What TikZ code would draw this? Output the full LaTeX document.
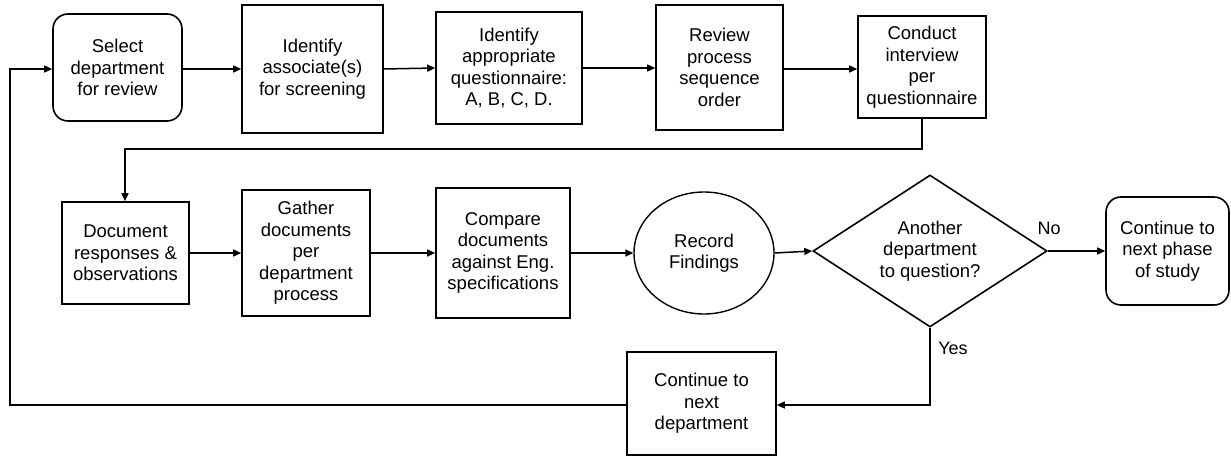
\documentclass[tikz,border=0pt]{standalone}
\usepackage{fontspec}
\setmainfont{Liberation Sans}
\usetikzlibrary{shapes.geometric,arrows.meta}
\begin{document}
\begin{tikzpicture}[x=1pt,y=-1pt,
  every node/.style={font=\fontsize{18.5}{21.5}\selectfont, align=center, inner sep=0pt},
  box/.style={draw, line width=1.6pt, rectangle},
  rbox/.style={draw, line width=1.6pt, rectangle, rounded corners=15pt},
  oval/.style={draw, line width=1.4pt, ellipse},
  decide/.style={draw, line width=1.6pt, diamond, aspect=1.54},
  arr/.style={line width=1.5pt, -{Triangle[length=8pt,width=7pt]}},
  ln/.style={line width=1.5pt},
  lbl/.style={font=\fontsize{18}{21}\selectfont}]
\useasboundingbox (0,0) rectangle (1231,457);
% row 1
\node[rbox, minimum width=129, minimum height=107] (sel) at (117.5,67.5) {Select\\department\\for review};
\node[box, minimum width=141, minimum height=128] (ass) at (312.5,69) {Identify\\associate(s)\\for screening};
\node[box, minimum width=146, minimum height=112] (que) at (509,68) {Identify\\appropriate\\questionnaire:\\A, B, C, D.};
\node[box, minimum width=127, minimum height=125] (rev) at (719.5,67.5) {Review\\process\\sequence\\order};
\node[box, minimum width=128, minimum height=102] (con) at (922,67) {Conduct\\interview\\per\\questionnaire};
% row 2
\node[box, minimum width=127, minimum height=102] (doc) at (125.5,253) {Document\\responses \&\\observations};
\node[box, minimum width=128, minimum height=126] (gat) at (306,253) {Gather\\documents\\per\\department\\process};
\node[box, minimum width=134, minimum height=130] (cmp) at (503,253) {Compare\\documents\\against Eng.\\specifications};
\node[oval, minimum width=140, minimum height=122] (rec) at (704,253) {Record\\Findings};
\node[decide, minimum width=234, minimum height=152] (dec) at (930,251) {Another\\department\\to question?};
\node[rbox, minimum width=123, minimum height=108] (pha) at (1167.5,251) {Continue to\\next phase\\of study};
% row 3
\node[box, minimum width=149, minimum height=103] (nxt) at (701.5,403.5) {Continue to\\next\\department};
% labels
\node[lbl] (no) at (1049,228) {No};
\node[lbl] (yes) at (953,348) {Yes};
% coordinates
\coordinate (c1) at (922,149);
\coordinate (c2) at (125,149);
\coordinate (c3) at (930,405);
\coordinate (c4) at (10,405);
\coordinate (c5) at (10,69);
% connectors
\draw[arr] (sel.east |- 0,69) -- (ass.west |- 0,69);
\draw[arr] (ass.east |- 0,69) -- (que.west |- 0,68);
\draw[arr] (que.east |- 0,68) -- (rev.west |- 0,68);
\draw[arr] (rev.east |- 0,69) -- (con.west |- 0,69);
\draw[arr] (con.south) -- (c1) -- (c2) -- (doc.north -| c2);
\draw[arr] (doc.east) -- (gat.west |- doc.east);
\draw[arr] (gat.east |- doc.east) -- (cmp.west |- doc.east);
\draw[arr] (cmp.east |- doc.east) -- (rec.west);
\draw[arr] (rec.east) -- (dec.west);
\draw[arr] (dec.east) -- (pha.west);
\draw[arr] (dec.south) -- (c3) -- (nxt.east |- c3);
\draw[arr] (nxt.west |- c4) -- (c4) -- (c5) -- (sel.west |- c5);
\end{tikzpicture}
\end{document}
